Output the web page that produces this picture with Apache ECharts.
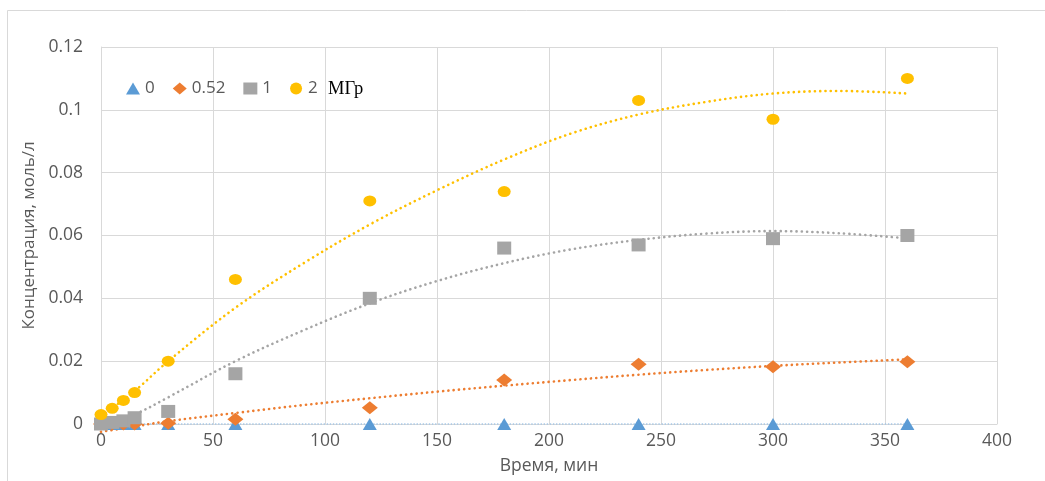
<!DOCTYPE html>
<html>
<head>
<meta charset="utf-8">
<script src="https://cdn.jsdelivr.net/npm/echarts@6/dist/echarts.min.js"></script>
<style>
  html, body { margin: 0; padding: 0; background: #ffffff; }
  #chart { width: 1045px; height: 481px; }
</style>
</head>
<body>
<div id="chart"></div>
<script>
// Time points, min
const times = [0, 5, 10, 15, 30, 60, 120, 180, 240, 300, 360];

// Measured concentration, mol/L, for each dose
const conc0   = [0, 0, 0, 0, 0, 0, 0, 0, 0, 0, 0];
const conc052 = [0, 0, 0, 0, 0.0002, 0.0015, 0.0052, 0.014, 0.019, 0.0182, 0.0198];
const conc1   = [0, 0.0005, 0.001, 0.002, 0.004, 0.016, 0.040, 0.056, 0.057, 0.059, 0.060];
const conc2   = [0.003, 0.005, 0.0075, 0.010, 0.020, 0.046, 0.071, 0.074, 0.103, 0.097, 0.110];

// Polynomial trend lines
const trendTimes = [0, 15, 30, 60, 90, 120, 150, 180, 210, 240, 270, 300, 330, 360];
const trend0   = [0, 0, 0, 0, 0, 0, 0, 0, 0, 0, 0, 0, 0, 0];
const trend052 = [-0.0025, -0.0008, 0.0009, 0.0035, 0.006, 0.0082, 0.0103, 0.0122, 0.014, 0.0157, 0.0172, 0.0185, 0.0196, 0.0206];
const trend1   = [-0.001, 0.003, 0.0085, 0.020, 0.0297, 0.0384, 0.0455, 0.0512, 0.0556, 0.0586, 0.0606, 0.0614, 0.0607, 0.0591];
const trend2   = [0.0025, 0.0105, 0.020, 0.037, 0.051, 0.0635, 0.0744, 0.0842, 0.0925, 0.0985, 0.1025, 0.1052, 0.106, 0.1052];

const seriesNames = ['0', '0.52', '1', '2'];
const unitLabel = 'МГр';
const xTitle = 'Время, мин';
const yTitle = 'Концентрация, моль/л';

const colors = ['#5b9bd5', '#ed7d31', '#a5a5a5', '#ffc000'];
const symbols = ['triangle', 'diamond', 'rect', 'circle'];
const symbolSizes = [[14, 12], [16, 13], [14, 13], [13, 11]];
const trendColors = ['#9dc3e6', '#ed7d31', '#a5a5a5', '#ffc000'];

const FONT = 'Open Sans';
const TXT = '#595959';

const pairs = (xs, ys) => xs.map((x, i) => [x, ys[i]]);
const measured = [conc0, conc052, conc1, conc2];
const trends = [trend0, trend052, trend1, trend2];

const series = [];
trends.forEach((t, i) => {
  series.push({
    name: 'trend ' + seriesNames[i],
    type: 'line',
    data: pairs(trendTimes, t),
    smooth: 0.35,
    showSymbol: false,
    symbol: 'none',
    clip: false,
    silent: true,
    z: 1,
    lineStyle: {
      color: trendColors[i],
      width: i === 0 ? 1.6 : 2.6,
      type: i === 0 ? [0.1, 3] : [0.1, 5.2],
      cap: 'round'
    }
  });
});
measured.forEach((m, i) => {
  series.push({
    name: seriesNames[i],
    type: 'scatter',
    data: pairs(times, m),
    symbol: symbols[i],
    symbolSize: symbolSizes[i],
    itemStyle: { color: colors[i], opacity: 1 },
    clip: false,
    z: 3 + i
  });
});

const chart = echarts.init(document.getElementById('chart'), null, { renderer: 'canvas' });
chart.setOption({
  animation: false,
  backgroundColor: '#ffffff',
  grid: { left: 101, right: 48, top: 47, bottom: 57 },
  legend: {
    data: seriesNames,
    left: 126,
    top: 80,
    padding: 0,
    itemWidth: 14,
    itemHeight: 12,
    itemGap: 18,
    textStyle: { fontFamily: FONT, fontSize: 17, color: TXT }
  },
  xAxis: {
    type: 'value',
    min: 0, max: 400, interval: 50,
    name: xTitle,
    nameLocation: 'middle',
    nameGap: 33,
    nameTextStyle: { fontFamily: FONT, fontSize: 17.5, color: TXT },
    axisLine: { show: true, onZero: false, lineStyle: { color: '#d9d9d9', width: 1 } },
    axisTick: { show: false },
    axisLabel: { fontFamily: FONT, fontSize: 17.5, color: TXT, margin: 8 },
    splitLine: { show: true, lineStyle: { color: '#d9d9d9', width: 1 } }
  },
  yAxis: {
    type: 'value',
    min: 0, max: 0.12, interval: 0.02,
    name: yTitle,
    nameLocation: 'middle',
    nameGap: 62,
    nameTextStyle: { fontFamily: FONT, fontSize: 17, color: TXT },
    axisLine: { show: true, lineStyle: { color: '#d9d9d9', width: 1 } },
    axisTick: { show: false },
    axisLabel: { fontFamily: FONT, fontSize: 17.5, color: TXT, margin: 18 },
    splitLine: { show: true, lineStyle: { color: '#d9d9d9', width: 1 } }
  },
  graphic: [
    {
      type: 'rect',
      shape: { x: 7.5, y: 10.5, width: 1100, height: 600 },
      style: { fill: 'none', stroke: '#d9d9d9', lineWidth: 1 },
      z: -10,
      silent: true
    },
    {
      type: 'text',
      left: 328,
      top: 80,
      style: { text: unitLabel, font: '18.5px "Liberation Serif", "DejaVu Serif", serif', fill: '#000000' },
      silent: true
    }
  ],
  series: series
});
</script>
</body>
</html>
